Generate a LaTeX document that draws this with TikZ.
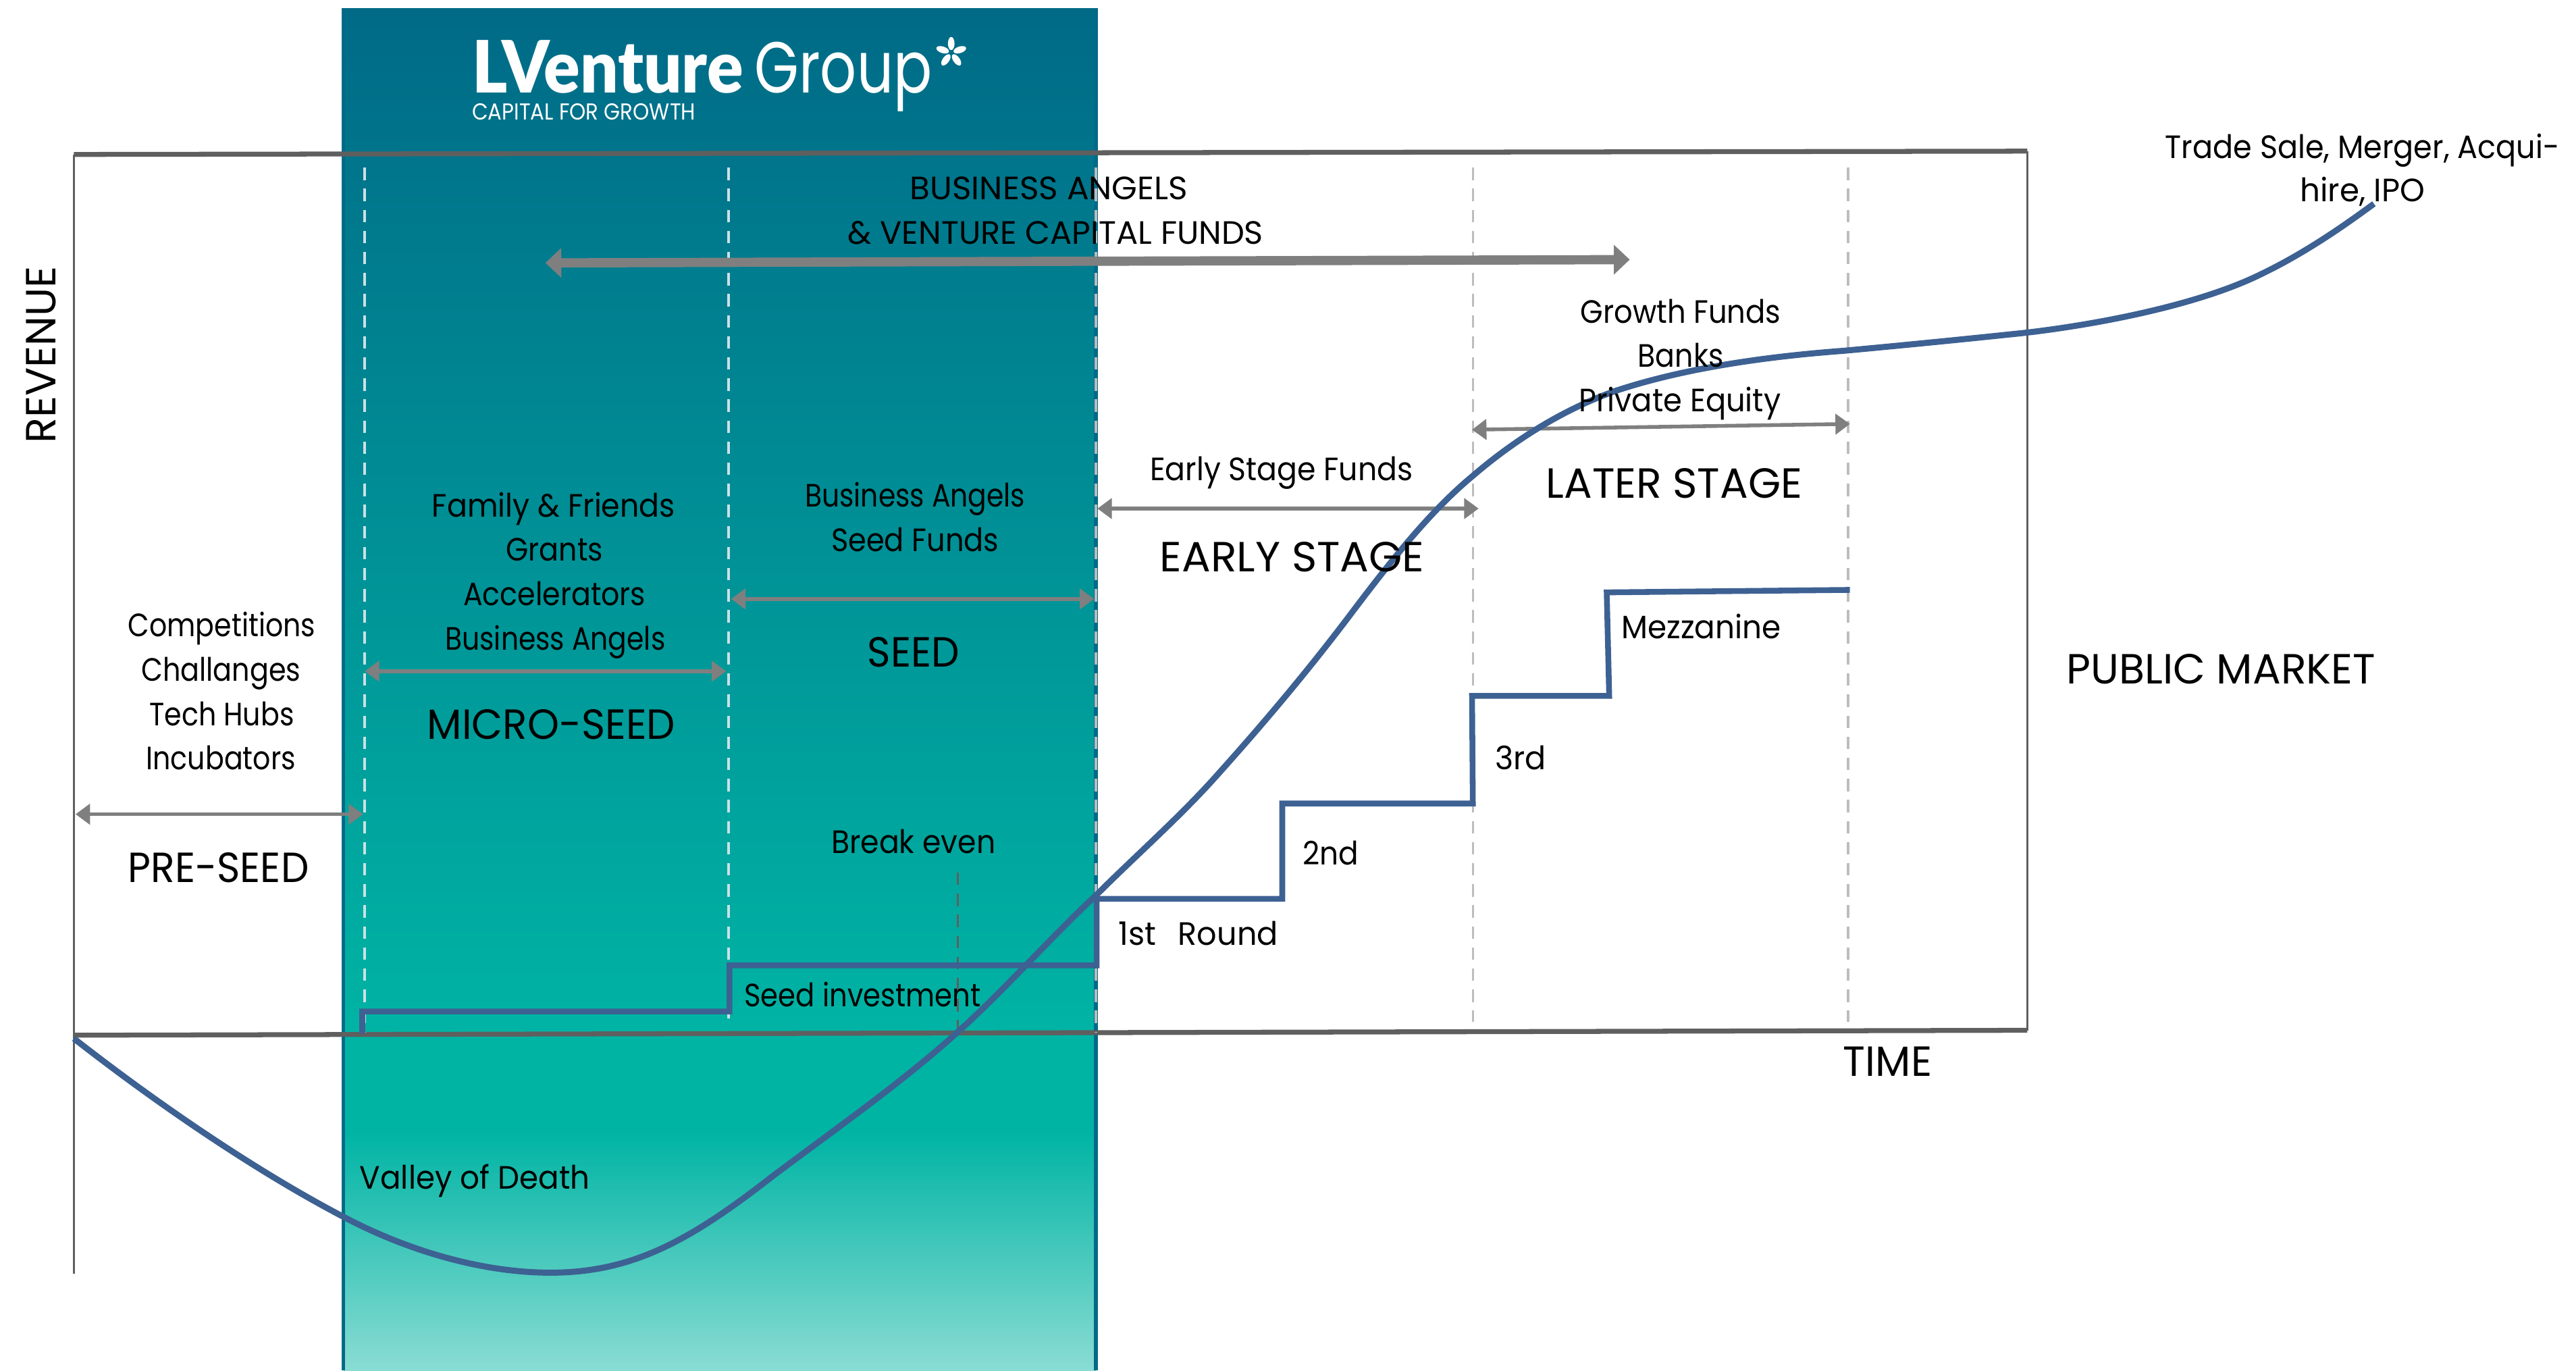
\documentclass[tikz,border=0pt]{standalone}
\usepackage{graphicx}
\usepackage{fontspec}
\usetikzlibrary{arrows.meta}
\setmainfont{Poppins}
\newfontfamily\bodyf{Poppins}
\newfontfamily\logob[BoldFont={Lato Black}]{Lato}
\newfontfamily\logog{Poppins}
\newlength\uu \setlength\uu{0.02cm}
\newcommand\fw[2]{\resizebox{#1\uu}{\height}{#2}}
\definecolor{bandtop}{HTML}{006A87}
\definecolor{bandmid}{HTML}{00B4A4}
\definecolor{bandlow}{HTML}{8ADCD3}
\definecolor{curveblue}{HTML}{3D6192}
\definecolor{framegrey}{HTML}{5F5F5F}
\definecolor{arrowgrey}{HTML}{7F7F7F}
\definecolor{dashgrey}{HTML}{BDBDBD}
\tikzset{
  x=0.02cm,y=-0.02cm,
  lab/.style={font=\bodyf\fontsize{11.2}{13}\selectfont,inner sep=0pt,text=black,anchor=base,yshift=-6.5\uu},
  biglab/.style={font=\bodyf\fontsize{14.6}{16}\selectfont,inner sep=0pt,text=black,anchor=base,yshift=-9\uu},
  framethick/.style={draw=framegrey,line width=1.7pt},
  framethin/.style={draw=framegrey,line width=0.8pt},
  vdash/.style={draw=dashgrey,line width=0.8pt,dash pattern=on 4.3pt off 3pt},
  curveline/.style={draw=curveblue,line width=2.1pt,line join=round},
  stepline/.style={draw=curveblue,line width=2pt,line join=miter},
  twoway/.style={draw=arrowgrey,line width=1.3pt,{Triangle[length=5pt,width=7pt]}-{Triangle[length=5pt,width=7pt]}},
  bigway/.style={draw=arrowgrey,line width=3.2pt,{Triangle[length=5.5pt,width=10pt]}-{Triangle[length=5.5pt,width=10pt]}},
}
\begin{document}
\begin{tikzpicture}
\useasboundingbox (0,0) rectangle (1568,834);
% band
\shade[top color=bandtop,bottom color=bandmid,draw=none] (209,5) rectangle (667,630.5);
\fill[bandmid] (209,630) rectangle (667,690);
\shade[top color=bandmid,bottom color=bandlow,draw=none] (209,689.5) rectangle (667,834);
\draw[bandtop,line width=1.3pt] (209,5) -- (209,834);
\draw[bandtop,line width=1.3pt] (667,5) -- (667,834);
% frame
\coordinate (tl) at (45,94); \coordinate (tr) at (1234,92);
\coordinate (bl) at (45,630); \coordinate (br) at (1234,627);
\coordinate (vb) at (45,775);
\draw[framethick] (tl) -- (tr);
\draw[framethick] (bl) -- (br);
\draw[framethin] (tl) -- (vb);
\draw[framethin] (tr) -- (br);
% dashed
\draw[vdash,draw=white!80!bandtop] (222,102) -- (222,628);
\draw[vdash,draw=white!80!bandtop] (443.5,102) -- (443.5,620);
\draw[vdash] (667,102) -- (667,628);
\draw[vdash] (896.5,102) -- (896.5,622);
\draw[vdash] (1125,102) -- (1125,622);
\draw[framegrey,line width=0.8pt,dash pattern=on 4.3pt off 3pt] (583,531) -- (583,628);
% arrows
\coordinate (bw1) at (332,160); \coordinate (bw2) at (992,158);
\draw[bigway] (bw1) -- (bw2);
\coordinate (a1) at (46,495.5); \coordinate (a2) at (221,495.5);
\draw[twoway] (a1) -- (a2);
\coordinate (b1) at (222,408.5); \coordinate (b2) at (442,408.5);
\draw[twoway] (b1) -- (b2);
\coordinate (c1) at (445,364.5); \coordinate (c2) at (666,364.5);
\draw[twoway] (c1) -- (c2);
\coordinate (d1) at (668,309.5); \coordinate (d2) at (900,309.5);
\draw[twoway] (d1) -- (d2);
\coordinate (e1) at (896,261.5); \coordinate (e2) at (1126,258);
\draw[twoway] (e1) -- (e2);
% steps
\draw[stepline] (220.5,629) -- (220.5,615.5) -- (444,615.5) -- (444,587.5) -- (667.5,587.5) -- (667.5,547) -- (780.5,547) -- (780.5,489) -- (896.5,489) -- (896,423.5) -- (979.5,423.5) -- (978,360.5) -- (1126,359);
% curve
\draw[curveline] (45,632)
  .. controls (100,675) and (160,715) .. (210,741)
  .. controls (250,762) and (295,774.5) .. (335,774.5)
  .. controls (385,774.5) and (420,755) .. (470,716)
  .. controls (510,686) and (550,658) .. (583,628)
  .. controls (610,604) and (640,570) .. (667,545)
  .. controls (690,522) and (715,500) .. (737,476)
  .. controls (765,445) and (795,410) .. (825,370)
  .. controls (850,337) and (872,310) .. (896,290)
  .. controls (925,265) and (955,248) .. (983,238)
  .. controls (1025,224) and (1075,217) .. (1122,213.5)
  .. controls (1160,210) and (1200,206) .. (1233,202.5)
  .. controls (1280,197) and (1340,185) .. (1377,166.5)
  .. controls (1405,153) and (1430,135) .. (1445,124);
% logo
\node[inner sep=0pt,anchor=base west,text=white,font=\logob\bfseries\fontsize{25}{25}\selectfont] (lv) at (287,56.5) {\fw{165}{LVenture}};
\node[inner sep=0pt,anchor=base west,text=white,font=\logog\fontsize{25}{25}\selectfont] (lg) at (459,56.5) {\fw{108}{Group}};
\foreach \a in {0,72,144,216,288}
  \fill[white,shift={(579,32)},rotate=\a] (0,-5.5) ellipse (2 and 4);
\node[inner sep=0pt,anchor=base west,text=white,font=\logog\fontsize{8}{8}\selectfont] (lc) at (287,73) {\fw{136}{CAPITAL FOR GROWTH}};
% labels
\node[font=\bodyf\fontsize{14.6}{16}\selectfont,inner sep=0pt,text=black,anchor=center,rotate=90] (rev) at (25,216) {\fw{108}{REVENUE}};
\node[lab] (t1) at (638.5,115) {\fw{169}{BUSINESS ANGELS}};
\node[lab] (t2) at (642.5,142) {\fw{253}{\& VENTURE CAPITAL FUNDS}};
\node[lab] (t3) at (1438,90) {\fw{240}{Trade Sale, Merger, Acqui-}};
\node[lab] (t4) at (1438,116) {\fw{76}{hire, IPO}};
\node[lab] (t5) at (1023,190) {\fw{122}{Growth Funds}};
\node[lab] (t6) at (1023,217) {\fw{52}{Banks}};
\node[lab] (t7) at (1022.5,244) {\fw{123}{Private Equity}};
\node[lab] (t8) at (780,286) {\fw{160}{Early Stage Funds}};
\node[biglab] (t9) at (1019,294) {\fw{156}{LATER STAGE}};
\node[biglab] (t10) at (786.5,339) {\fw{161}{EARLY STAGE}};
\node[lab] (t11) at (1035.5,382) {\fw{97}{Mezzanine}};
\node[biglab] (t12) at (1352,407) {\fw{188}{PUBLIC MARKET}};
\node[lab] (t13) at (925.5,462) {\fw{31}{3rd}};
\node[lab] (t14) at (810,520) {\fw{34}{2nd}};
\node[lab] (t15) at (729.5,568.5) {\fw{97}{1st\hspace{0.7em}Round}};
\node[biglab] (t16) at (1149,646) {\fw{54}{TIME}};
\node[biglab] (t17) at (133,528) {\fw{110}{PRE-SEED}};
\node[biglab] (t18) at (335.5,441) {\fw{151}{MICRO-SEED}};
\node[biglab] (t19) at (556,397) {\fw{56}{SEED}};
\node[lab] (t20) at (556,513) {\fw{100}{Break even}};
\node[lab] (t21) at (525,606) {\fw{144}{Seed investment}};
\node[lab] (t22) at (289,717) {\fw{140}{Valley of Death}};
\node[lab] (t23) at (337,308) {\fw{148}{Family \& Friends}};
\node[lab] (t24) at (337.5,335) {\fw{59}{Grants}};
\node[lab] (t25) at (337.5,362) {\fw{111}{Accelerators}};
\node[lab] (t26) at (338,389) {\fw{134}{Business Angels}};
\node[lab] (t27) at (557,302) {\fw{134}{Business Angels}};
\node[lab] (t28) at (557,329) {\fw{102}{Seed Funds}};
\node[lab] (t29) at (135,381) {\fw{114}{Competitions}};
\node[lab] (t30) at (134.5,408) {\fw{97}{Challanges}};
\node[lab] (t31) at (135,435) {\fw{88}{Tech Hubs}};
\node[lab] (t32) at (134.5,462) {\fw{91}{Incubators}};
\end{tikzpicture}
\end{document}
